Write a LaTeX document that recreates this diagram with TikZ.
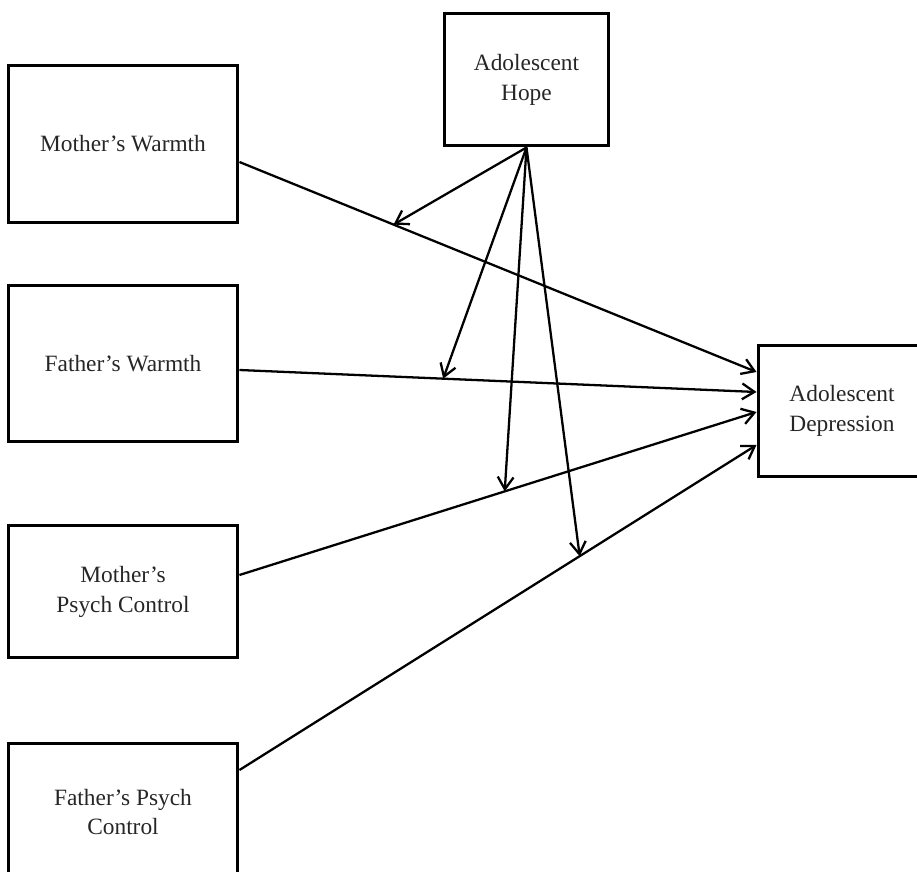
\documentclass[tikz,border=0pt]{standalone}
\usepackage{fontspec}
\setmainfont{Liberation Serif}
\usetikzlibrary{arrows.meta,calc}

\begin{document}
\begin{tikzpicture}[x=0.02cm,y=-0.02cm,->,>={Straight Barb[length=7pt,width=9pt]},
  line width=1.3pt,
  var node/.style={rectangle,draw,line width=1.7pt,align=center,inner sep=0pt,
    text=black!85,font=\fontsize{13.3}{17}\selectfont}]
  \useasboundingbox (0,0) rectangle (917,872);

  \node[var node,minimum width=4.6cm,minimum height=3.16cm] (mw) at (123,144) {Mother's Warmth};
  \node[var node,minimum width=4.6cm,minimum height=3.14cm] (fw) at (123,363.5) {Father's Warmth};
  \node[var node,minimum width=4.6cm,minimum height=2.66cm] (mpc) at (123,591.5) {Mother's\\Psych Control};
  \node[var node,minimum width=4.6cm,minimum height=2.76cm] (fpc) at (123,812) {Father's Psych\\Control};
  \node[var node,minimum width=3.3cm,minimum height=2.66cm] (hope) at (526.5,79.5) {Adolescent\\Hope};
  \node[var node,minimum width=3.36cm,minimum height=2.64cm] (dep) at (842,411) {Adolescent\\Depression};

  % where the lines leave and enter the boxes
  \coordinate (mwout) at ($(mw.east)+(0,18)$);
  \coordinate (fwout) at ($(fw.east)+(0,6.5)$);
  \coordinate (mpcout) at ($(mpc.east)+(0,-16.5)$);
  \coordinate (fpcout) at ($(fpc.east)+(0,-42)$);
  \coordinate (in1) at ($(dep.west)+(0,-39)$);
  \coordinate (in2) at ($(dep.west)+(0,-19)$);
  \coordinate (in3) at ($(dep.west)+(0,1)$);
  \coordinate (in4) at ($(dep.west)+(0,34)$);

  \draw (mwout) -- coordinate[pos=0.298] (m1) (in1);
  \draw (fwout) -- coordinate[pos=0.394] (m2) (in2);
  \draw (mpcout) -- coordinate[pos=0.513] (m3) (in3);
  \draw (fpcout) -- coordinate[pos=0.658] (m4) (in4);

  % moderation by hope
  \draw (hope.south) -- (m1);
  \draw (hope.south) -- (m2);
  \draw (hope.south) -- (m3);
  \draw (hope.south) -- (m4);
\end{tikzpicture}
\end{document}
